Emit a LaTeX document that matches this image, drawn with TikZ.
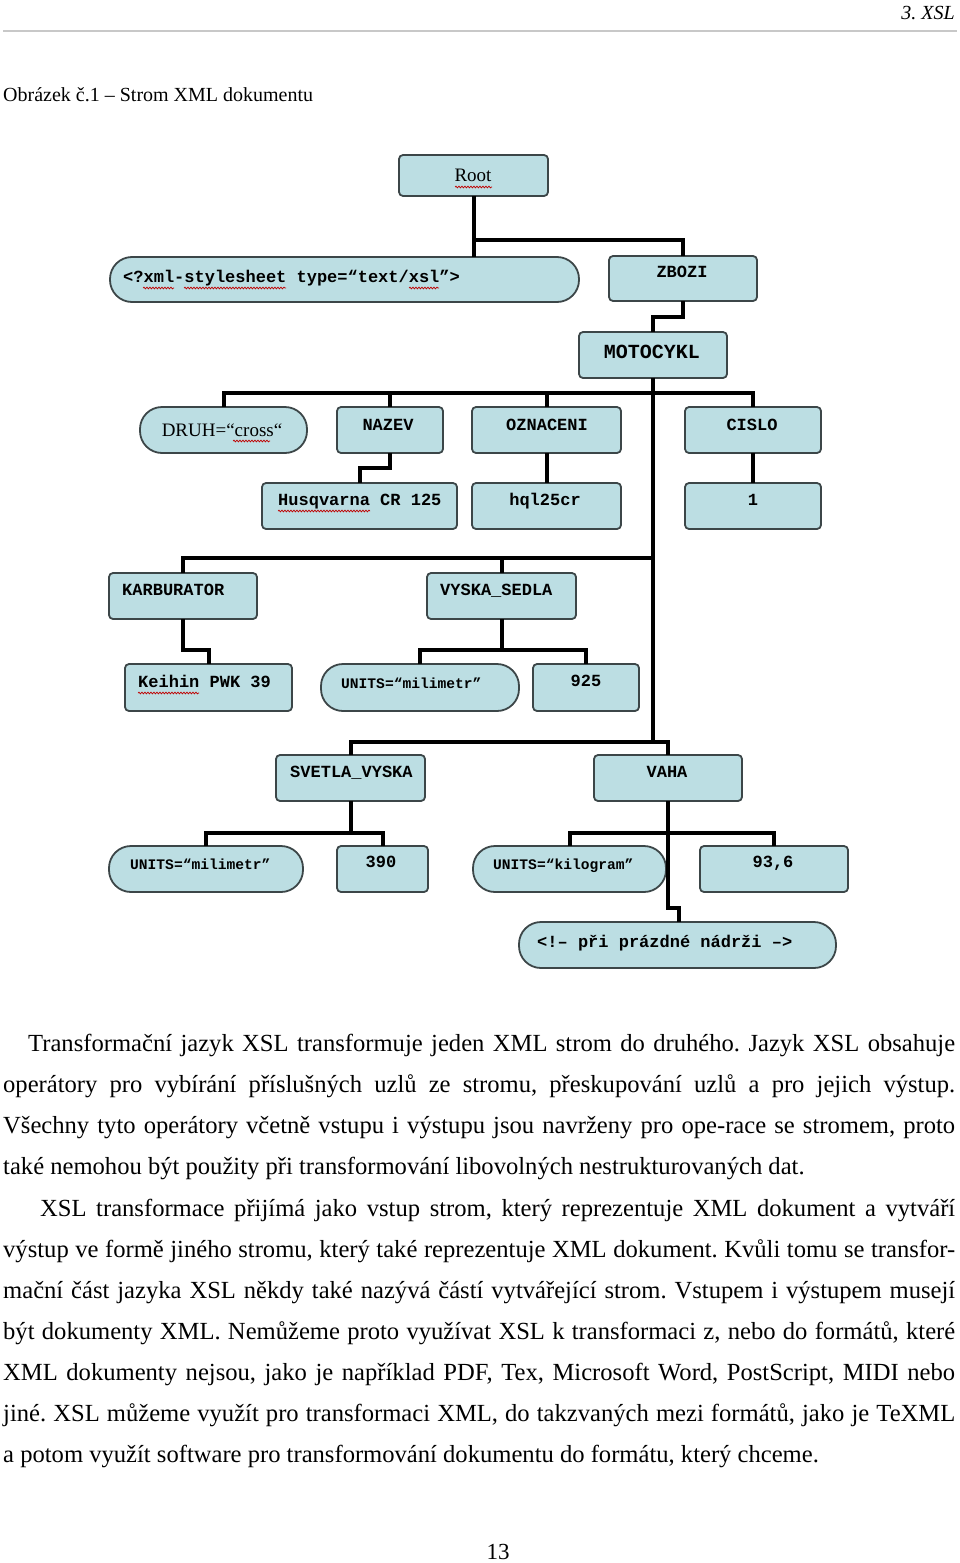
\documentclass[tikz,border=0pt]{standalone}
\usepackage{fontspec}
\setmainfont{Liberation Serif}
\newfontfamily\monof{Liberation Mono}
\usetikzlibrary{decorations.pathmorphing}
\definecolor{boxfill}{RGB}{188,222,227}
\definecolor{boxline}{RGB}{60,70,72}
\definecolor{rulegray}{RGB}{200,200,200}
\frenchspacing
\begin{document}
\frenchspacing
\begin{tikzpicture}[x=1pt,y=-1pt,
  box/.style={draw=boxline, line width=1.8pt, fill=boxfill, rounded corners=4pt, inner sep=0pt, outer sep=0pt, anchor=north west},
  pill/.style={box, rounded corners=22pt},
  link/.style={line width=4pt, black, line join=miter},
  mt/.style={font=\fontsize{17}{17}\selectfont\monof\bfseries, inner sep=0pt, anchor=base},
  mtl/.style={mt, anchor=base west},
  mts/.style={font=\fontsize{14.6}{15}\selectfont\monof\bfseries, inner sep=0pt, anchor=base west},
  st/.style={font=\fontsize{19}{19}\selectfont, inner sep=0pt, anchor=base},
  wavy/.style={draw=red!75!black, line width=0.7pt, decorate, decoration={snake, amplitude=0.9pt, segment length=3pt}},
  body/.style={font=\fontsize{24.6}{30}\selectfont\frenchspacing, inner sep=0pt, anchor=base west},
  hdr/.style={font=\fontsize{20}{24}\selectfont, inner sep=0pt}
]
\useasboundingbox (0,0) rectangle (960,1563);

% header
\node[hdr, anchor=base east] (hdr) at (955,20) {\itshape 3. XSL};
\draw[rulegray, line width=1.5pt] (3,31) -- (957,31);
\node[hdr, anchor=base west] (cap) at (3,101) {Obrázek č.1 – Strom XML dokumentu};

% boxes
\node[box, minimum width=149pt, minimum height=41pt] (root) at (399,155) {};
\node[pill, minimum width=469pt, minimum height=45pt] (xsl) at (110,257) {};
\node[box, minimum width=148pt, minimum height=45pt] (zbozi) at (609,256) {};
\node[box, minimum width=148pt, minimum height=46pt] (moto) at (579,332) {};
\node[pill, minimum width=167pt, minimum height=46pt] (druh) at (140,407) {};
\node[box, minimum width=106pt, minimum height=46pt] (nazev) at (337,407) {};
\node[box, minimum width=149pt, minimum height=46pt] (ozn) at (472,407) {};
\node[box, minimum width=136pt, minimum height=46pt] (cislo) at (685,407) {};
\node[box, minimum width=195pt, minimum height=46pt] (husq) at (262,483) {};
\node[box, minimum width=149pt, minimum height=46pt] (hql) at (472,483) {};
\node[box, minimum width=136pt, minimum height=46pt] (one) at (685,483) {};
\node[box, minimum width=148pt, minimum height=46pt] (karb) at (109,573) {};
\node[box, minimum width=149pt, minimum height=46pt] (vyska) at (427,573) {};
\node[box, minimum width=167pt, minimum height=47pt] (keihin) at (125,664) {};
\node[pill, minimum width=198pt, minimum height=47pt] (unitsA) at (321,664) {};
\node[box, minimum width=106pt, minimum height=47pt] (n925) at (533,664) {};
\node[box, minimum width=149pt, minimum height=46pt] (svetla) at (276,755) {};
\node[box, minimum width=148pt, minimum height=46pt] (vaha) at (594,755) {};
\node[pill, minimum width=194pt, minimum height=46pt] (unitsB) at (109,846) {};
\node[box, minimum width=91pt, minimum height=46pt] (n390) at (337,846) {};
\node[pill, minimum width=193pt, minimum height=46pt] (unitsC) at (473,846) {};
\node[box, minimum width=148pt, minimum height=46pt] (n936) at (700,846) {};
\node[pill, minimum width=317pt, minimum height=46pt] (comment) at (519,922) {};

% free ends for offset connectors
\coordinate (husqin) at (360,483);
\coordinate (keihinin) at (209,664);
\coordinate (commentin) at (679,922);

% connectors
\draw[link] (root.south) -- (root.south |- xsl.north);
\draw[link] (root.south |- 0,240) -| (zbozi.north);
\draw[link] (zbozi.south) -- (zbozi.south |- 0,317) -| (moto.north);
\draw[link] (moto.south) -- (moto.south |- 0,742);
\draw[link] (druh.north) |- (cislo.north |- 0,393) -- (cislo.north);
\draw[link] (nazev.north) -- (nazev.north |- 0,393);
\draw[link] (ozn.north) -- (ozn.north |- 0,393);
\draw[link] (nazev.south) -- (nazev.south |- 0,468) -| (husqin);
\draw[link] (ozn.south) -- (hql.north);
\draw[link] (cislo.south) -- (one.north);
\draw[link] (karb.north) |- (moto.south |- 0,558);
\draw[link] (vyska.north) -- (vyska.north |- 0,558);
\draw[link] (karb.south) -- (karb.south |- 0,650) -| (keihinin);
\draw[link] (vyska.south) -- (vyska.south |- 0,650);
\draw[link] (unitsA.north) |- (n925.north |- 0,650) -- (n925.north);
\draw[link] (svetla.north) |- (vaha.north |- 0,742) -- (vaha.north);
\draw[link] (svetla.south) -- (svetla.south |- 0,833);
\draw[link] (unitsB.north) |- (n390.north |- 0,833) -- (n390.north);
\draw[link] (vaha.south) -- (vaha.south |- 0,908) -| (commentin);
\draw[link] (unitsC.north) |- (n936.north |- 0,833) -- (n936.north);

% box texts
\node[st] (troot) at (473,181) {Root};
\node[mtl] (txsl) at (123,282) {<?xml-stylesheet type=“text/xsl”>};
\node[mt] (tzbozi) at (682,277) {ZBOZI};
\node[mt, font=\fontsize{20}{20}\selectfont\monof\bfseries] (tmoto) at (652,358) {MOTOCYKL};
\node[st] (tdruh) at (222,436) {DRUH=“cross“};
\node[mt] (tnazev) at (388,430) {NAZEV};
\node[mt] (tozn) at (547,430) {OZNACENI};
\node[mt] (tcislo) at (752,430) {CISLO};
\node[mtl] (thusq) at (278,505) {Husqvarna CR 125};
\node[mt] (thql) at (545,505) {hql25cr};
\node[mt] (tone) at (753,505) {1};
\node[mtl] (tkarb) at (122,595) {KARBURATOR};
\node[mtl] (tvyska) at (440,595) {VYSKA\_SEDLA};
\node[mtl] (tkeihin) at (138,687) {Keihin PWK 39};
\node[mts] (tunitsA) at (341,688) {UNITS=“milimetr”};
\node[mt] (t925) at (586,686) {925};
\node[mtl] (tsvetla) at (290,777) {SVETLA\_VYSKA};
\node[mt] (tvaha) at (667,777) {VAHA};
\node[mts] (tunitsB) at (130,869) {UNITS=“milimetr”};
\node[mt] (t390) at (381,867) {390};
\node[mts] (tunitsC) at (493,869) {UNITS=“kilogram”};
\node[mt] (t936) at (773,867) {93,6};
\node[mtl] (tcomment) at (537,947) {<!– při prázdné nádrži –>};

% spell-check underlines
\draw[wavy] (455,187) -- (492,187);
\draw[wavy] (143,288) -- (174,288);
\draw[wavy] (184,288) -- (286,288);
\draw[wavy] (409,288) -- (439,288);
\draw[wavy] (233,441) -- (270,441);
\draw[wavy] (278,511) -- (370,511);
\draw[wavy] (138,693) -- (199,693);

% body text
\node[body] (p1) at (28,1051) {\makebox[927pt][s]{Transformační jazyk XSL transformuje jeden XML strom do druhého. Jazyk XSL obsahuje}};
\node[body] (p2) at (3,1092) {\makebox[952pt][s]{operátory pro vybírání příslušných uzlů ze stromu, přeskupování uzlů a pro jejich výstup.}};
\node[body] (p3) at (3,1133) {\makebox[952pt][s]{Všechny tyto operátory včetně vstupu i výstupu jsou navrženy pro ope-race se stromem, proto}};
\node[body] (p4) at (3,1174) {také nemohou být použity při transformování libovolných nestrukturovaných dat.};
\node[body] (p5) at (40,1216) {\makebox[915pt][s]{XSL transformace přijímá jako vstup strom, který reprezentuje XML dokument a vytváří}};
\node[body] (p6) at (3,1257) {\makebox[952pt][s]{výstup ve formě jiného stromu, který také reprezentuje XML dokument. Kvůli tomu se transfor-}};
\node[body] (p7) at (3,1298) {\makebox[952pt][s]{mační část jazyka XSL někdy také nazývá částí vytvářející strom. Vstupem i výstupem musejí}};
\node[body] (p8) at (3,1339) {\makebox[952pt][s]{být dokumenty XML. Nemůžeme proto využívat XSL k transformaci z, nebo do formátů, které}};
\node[body] (p9) at (3,1380) {\makebox[952pt][s]{XML dokumenty nejsou, jako je například PDF, Tex, Microsoft Word, PostScript, MIDI nebo}};
\node[body] (p10) at (3,1421) {\makebox[952pt][s]{jiné. XSL můžeme využít pro transformaci XML, do takzvaných mezi formátů, jako je TeXML}};
\node[body] (p11) at (3,1462) {a potom využít software pro transformování dokumentu do formátu, který chceme.};

% page number
\node[font=\fontsize{23}{23}\selectfont, inner sep=0pt, anchor=base] (pnum) at (498,1559) {13};
\end{tikzpicture}
\end{document}
